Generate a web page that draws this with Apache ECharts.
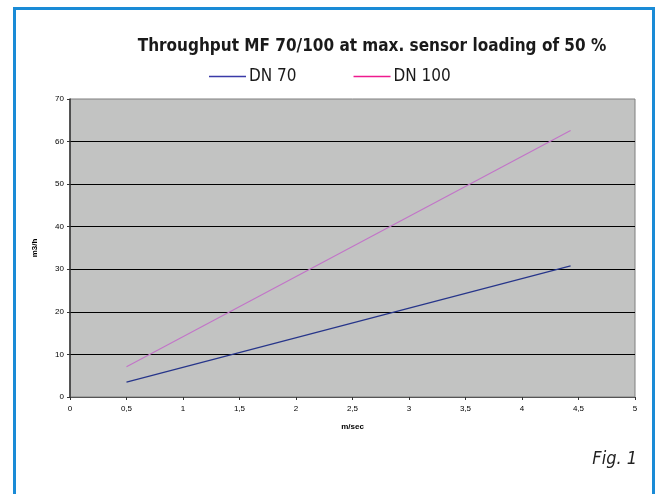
<!DOCTYPE html>
<html>
<head>
<meta charset="utf-8">
<script src="https://cdn.jsdelivr.net/npm/echarts@6/dist/echarts.min.js"></script>
<style>
  html, body { margin: 0; padding: 0; background: #fff; }
  #wrap { position: relative; width: 658px; height: 494px; overflow: hidden; }
  #frame {
    position: absolute; left: 13px; top: 7px; width: 642px; height: 520px;
    border: 3px solid #1a8bd6; border-bottom: none; box-sizing: border-box;
  }
  #chart { position: absolute; left: 0; top: 0; width: 658px; height: 494px; }
</style>
</head>
<body>
<div id="wrap">
  <div id="frame"></div>
  <div id="chart"></div>
</div>
<script>
// speed in m/sec
const speeds = [0.5, 4.43];
// throughput m3/h
const dn70 = [3.5, 30.8];
const dn100 = [7.1, 62.6];
const seriesNames = ['DN 70', 'DN 100'];
const lineColors = ['#26358a', '#c274c8'];
const legendColors = ['#3a3aa8', '#ee1b8e'];

const condensed = '"DejaVu Sans Condensed", "Liberation Sans", sans-serif';

const chart = echarts.init(document.getElementById('chart'));

function pairs (xs, ys) {
  return xs.map((x, i) => [x, ys[i]]);
}

const option = {
  animation: false,
  title: {
    text: 'Throughput MF 70/100 at max. sensor loading of 50 %',
    left: 367,
    textAlign: 'center',
    top: 33,
    textStyle: {
      fontFamily: condensed,
      fontWeight: 'bold',
      fontSize: 17,
      color: '#1a1a1a'
    }
  },
  legend: {
    left: 204,
    top: 63,
    icon: 'rect',
    itemWidth: 37,
    itemHeight: 1.5,
    itemGap: 57,
    textStyle: {
      fontFamily: condensed,
      fontSize: 17,
      color: '#1a1a1a',
      padding: [0, 0, 0, -2]
    },
    data: seriesNames.map((n, i) => ({ name: n, itemStyle: { color: legendColors[i] } }))
  },
  grid: {
    left: 70,
    right: 23,
    top: 99,
    bottom: 97,
    show: true,
    backgroundColor: '#c2c3c2',
    borderColor: '#7f7f7f',
    borderWidth: 1
  },
  xAxis: {
    type: 'value',
    min: 0,
    max: 5,
    interval: 0.5,
    name: 'm/sec',
    nameLocation: 'middle',
    nameGap: 26,
    nameTextStyle: { fontFamily: 'Liberation Sans', fontWeight: 'bold', fontSize: 8, color: '#000' },
    axisLine: { lineStyle: { color: '#555', width: 1 } },
    axisTick: { show: true, length: 3, lineStyle: { color: '#333' } },
    axisLabel: {
      fontFamily: 'Liberation Sans',
      fontSize: 8,
      color: '#000',
      margin: 8,
      formatter: v => String(v).replace('.', ',')
    },
    splitLine: { show: false }
  },
  yAxis: {
    type: 'value',
    min: 0,
    max: 70,
    interval: 10,
    name: 'm3/h',
    nameLocation: 'middle',
    nameGap: 31,
    nameTextStyle: { fontFamily: 'Liberation Sans', fontWeight: 'bold', fontSize: 8, color: '#000' },
    axisLine: { show: true, lineStyle: { color: '#333', width: 1.5 } },
    axisTick: { show: true, length: 3, lineStyle: { color: '#333' } },
    axisLabel: { fontFamily: 'Liberation Sans', fontSize: 8, color: '#000', margin: 6 },
    splitLine: { show: true, showMaxLine: false, lineStyle: { color: '#000', width: 1.2 } }
  },
  series: [
    {
      name: seriesNames[0],
      type: 'line',
      symbol: 'none',
      data: pairs(speeds, dn70),
      lineStyle: { color: lineColors[0], width: 1.1 },
      itemStyle: { color: lineColors[0] }
    },
    {
      name: seriesNames[1],
      type: 'line',
      symbol: 'none',
      data: pairs(speeds, dn100),
      lineStyle: { color: lineColors[1], width: 1.1 },
      itemStyle: { color: lineColors[1] }
    }
  ],
  graphic: [
    {
      type: 'text',
      right: 21,
      top: 450,
      style: {
        text: 'Fig. 1',
        font: 'italic 18px "DejaVu Sans Condensed", "Liberation Sans", sans-serif',
        fill: '#222'
      }
    }
  ]
};

chart.setOption(option);
</script>
</body>
</html>
